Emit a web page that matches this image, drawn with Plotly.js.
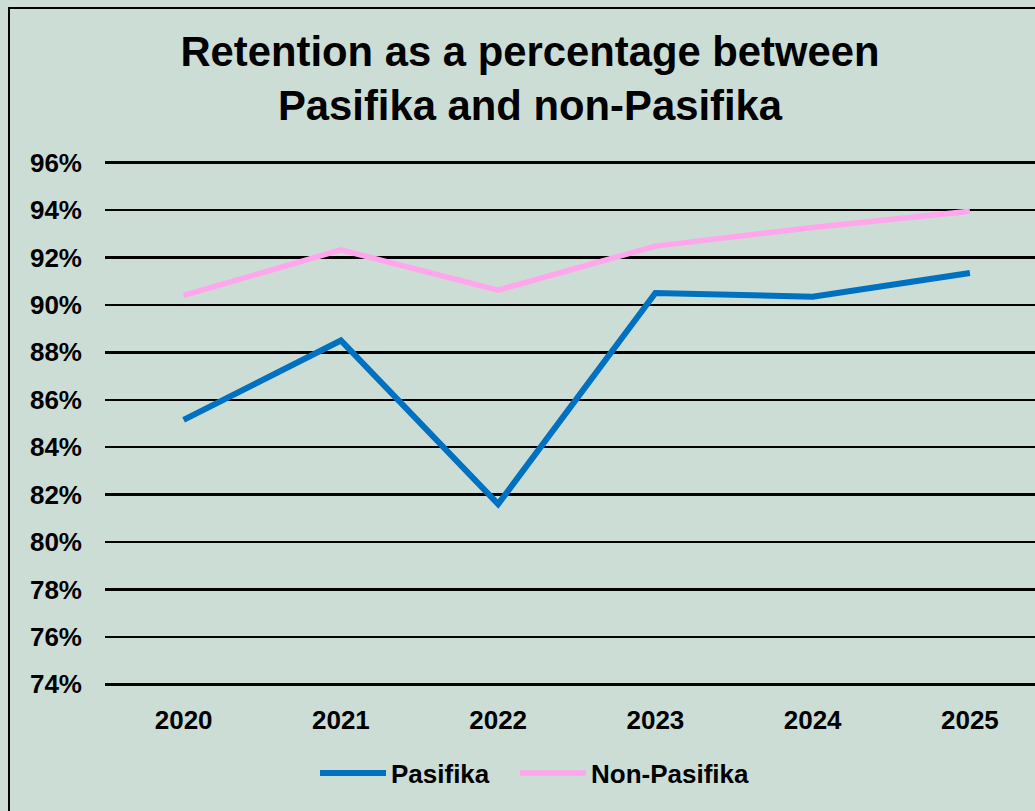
<!DOCTYPE html>
<html>
<head>
<meta charset="utf-8">
<script src="https://cdn.plot.ly/plotly-3.0.1.min.js"></script>
<style>
  html, body { margin: 0; padding: 0; background: #ccddd6; }
  #wrap { position: relative; width: 1035px; height: 811px; overflow: hidden; }
  #chart { position: absolute; left: 0; top: 0; width: 1035px; height: 811px; }
  #frame { position: absolute; left: 8px; top: 7px; width: 1100px; height: 900px;
           border-left: 2px solid #000; border-top: 2px solid #000; pointer-events: none; }
</style>
</head>
<body>
<div id="wrap">
  <div id="chart"></div>
  <div id="frame"></div>
</div>
<script>
const years = ['2020', '2021', '2022', '2023', '2024', '2025'];
const pasifika = [85.15, 88.5, 81.6, 90.5, 90.35, 91.35];
const nonPasifika = [90.4, 92.32, 90.62, 92.48, 93.27, 93.95];
const yTickVals = [74, 76, 78, 80, 82, 84, 86, 88, 90, 92, 94, 96];
const yTickText = yTickVals.map(v => v + '%');

const font = 'Liberation Sans, Arial, sans-serif';

const traces = [
  {
    x: years, y: pasifika, type: 'scatter', mode: 'lines', name: 'Pasifika',
    line: { color: '#0070c0', width: 6 }, legend: 'legend'
  },
  {
    x: years, y: nonPasifika, type: 'scatter', mode: 'lines', name: 'Non-Pasifika',
    line: { color: '#ffa6ec', width: 5.5 }, legend: 'legend2'
  }
];

const legendStyle = {
  orientation: 'h', xanchor: 'left', xref: 'container',
  y: 1 - 773 / 811, yanchor: 'middle', yref: 'container',
  font: { family: font, size: 26, color: '#000', weight: 'bold' },
  bgcolor: 'rgba(0,0,0,0)', itemwidth: 66
};

const layout = {
  width: 1035, height: 811,
  paper_bgcolor: '#ccddd6', plot_bgcolor: '#ccddd6',
  margin: { l: 105, r: 0, t: 161, b: 125 },
  title: {
    text: '<b>Retention as a percentage between<br>Pasifika and non-Pasifika</b>',
    font: { family: font, size: 41.8, color: '#000' },
    x: 530 / 1035, xref: 'container', xanchor: 'center',
    y: 1 - 66 / 811, yref: 'container', yanchor: 'top'
  },
  xaxis: {
    type: 'category', range: [-0.5, 5.414], fixedrange: true,
    showgrid: false, zeroline: false, showline: false, ticks: '',
    ticklabelstandoff: 16,
    tickfont: { family: font, size: 26, color: '#000', weight: 'bold' }
  },
  yaxis: {
    range: [73.93, 96.07], tickvals: yTickVals, ticktext: yTickText,
    showgrid: true, gridcolor: '#000', gridwidth: 2.5,
    zeroline: false, showline: false, ticks: '',
    ticklabelstandoff: 22,
    tickfont: { family: font, size: 26, color: '#000', weight: 'bold' }
  },
  showlegend: true,
  legend: Object.assign({}, legendStyle, { x: 315 / 1035 }),
  legend2: Object.assign({}, legendStyle, { x: 515 / 1035 })
};

Plotly.newPlot('chart', traces, layout, { staticPlot: true });
</script>
</body>
</html>
